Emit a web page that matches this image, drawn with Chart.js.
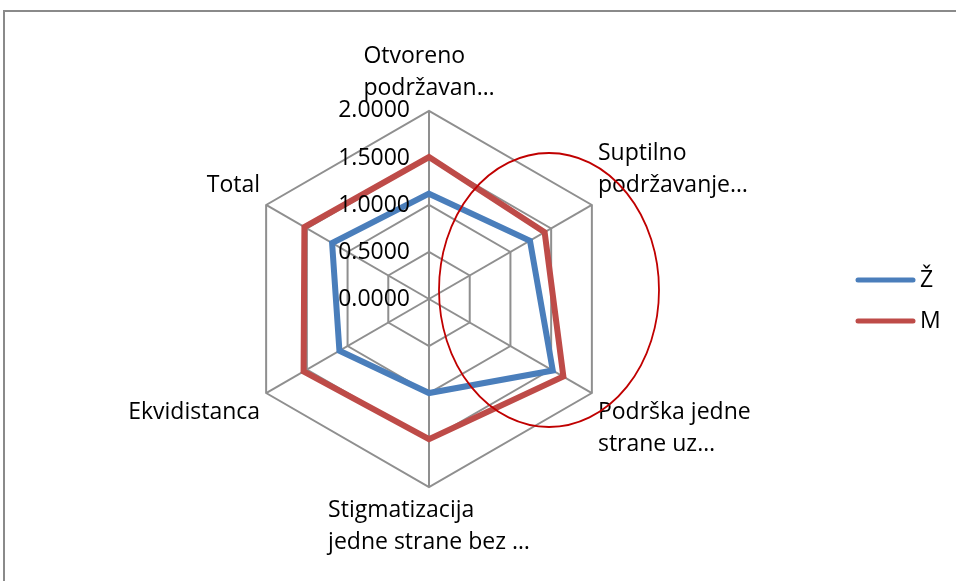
<!DOCTYPE html>
<html>
<head>
<meta charset="utf-8">
<script src="https://cdn.jsdelivr.net/npm/chart.js@4"></script>
<style>
    html, body { margin: 0; padding: 0; background: #fff; }
    #wrap { position: relative; width: 956px; height: 581px; }
</style>
</head>
<body>
<div id="wrap"><canvas id="radar" width="956" height="581"></canvas></div>
<script>
// Data
const categories = [
    ['Otvoreno', 'podržavan…'],
    ['Suptilno', 'podržavanje…'],
    ['Podrška jedne', 'strane uz…'],
    ['Stigmatizacija', 'jedne strane bez …'],
    'Ekvidistanca',
    'Total'
];
const seriesNames = ['Ž', 'M'];
const valuesZ = [1.12, 1.24, 1.52, 1.00, 1.10, 1.19];
const valuesM = [1.51, 1.42, 1.65, 1.49, 1.54, 1.53];
const tickValues = [0, 0.5, 1, 1.5, 2];
const tickLabels = ['0.0000', '0.5000', '1.0000', '1.5000', '2.0000'];

const seriesColors = ['#4a7ebb', '#be4b48'];
const FONT = '"Open Sans", sans-serif';
const FONT_SIZE = 23;
const LINE_HEIGHT = 1.39;

// Outer frame of the chart object
const framePlugin = {
    id: 'frame',
    beforeDraw(chart) {
        const ctx = chart.ctx;
        ctx.save();
        ctx.fillStyle = '#ffffff';
        ctx.fillRect(0, 0, chart.width, chart.height);
        ctx.strokeStyle = '#8a8a8a';
        ctx.lineWidth = 2;
        ctx.strokeRect(4, 11, chart.width + 20, chart.height + 20);
        ctx.restore();
    }
};

// Category labels: keep Chart.js placement, but left-align the lines of each label block
const pointLabelPlugin = {
    id: 'leftAlignedPointLabels',
    afterDraw(chart) {
        const scale = chart.scales.r;
        const items = scale._pointLabelItems || [];
        const ctx = chart.ctx;
        const lh = FONT_SIZE * LINE_HEIGHT;
        ctx.save();
        ctx.font = FONT_SIZE + 'px ' + FONT;
        ctx.fillStyle = '#000';
        ctx.textAlign = 'left';
        ctx.textBaseline = 'middle';
        items.forEach((item, i) => {
            const lines = [].concat(scale._pointLabels[i]);
            lines.forEach((line, j) => {
                ctx.fillText(line, item.left, item.top + lh * (j + 0.5));
            });
        });
        ctx.restore();
    }
};

// Tick labels, right-aligned left of the vertical axis
const tickLabelPlugin = {
    id: 'tickLabels',
    afterDatasetsDraw(chart) {
        const scale = chart.scales.r;
        const ctx = chart.ctx;
        ctx.save();
        ctx.font = FONT_SIZE + 'px ' + FONT;
        ctx.fillStyle = '#000';
        ctx.textAlign = 'right';
        ctx.textBaseline = 'middle';
        tickValues.forEach((v, i) => {
            const d = scale.getDistanceFromCenterForValue(v);
            ctx.fillText(tickLabels[i], scale.xCenter - 19, scale.yCenter - d);
        });
        ctx.restore();
    }
};

// Legend on the right
const legendPlugin = {
    id: 'sideLegend',
    afterDraw(chart) {
        const ctx = chart.ctx;
        ctx.save();
        ctx.font = FONT_SIZE + 'px ' + FONT;
        ctx.textBaseline = 'middle';
        ctx.textAlign = 'left';
        chart.data.datasets.forEach((ds, i) => {
            const y = 280 + i * 41;
            ctx.strokeStyle = ds.borderColor;
            ctx.lineWidth = 5;
            ctx.lineCap = 'round';
            ctx.beginPath();
            ctx.moveTo(858, y);
            ctx.lineTo(913, y);
            ctx.stroke();
            ctx.fillStyle = '#000';
            ctx.fillText(ds.label, 920, y);
        });
        ctx.restore();
    }
};

// Hand-drawn red ellipse annotation
const ellipsePlugin = {
    id: 'ellipseNote',
    afterDraw(chart) {
        const ctx = chart.ctx;
        ctx.save();
        ctx.strokeStyle = '#c00000';
        ctx.lineWidth = 1.8;
        ctx.beginPath();
        ctx.ellipse(549, 290, 110, 137, 0, 0, Math.PI * 2);
        ctx.stroke();
        ctx.restore();
    }
};

new Chart(document.getElementById('radar'), {
    type: 'radar',
    data: {
        labels: categories,
        datasets: [
            {
                label: seriesNames[0],
                data: valuesZ,
                borderColor: seriesColors[0],
                backgroundColor: seriesColors[0],
                borderWidth: 6,
                fill: false,
                pointRadius: 0,
                pointHoverRadius: 0
            },
            {
                label: seriesNames[1],
                data: valuesM,
                borderColor: seriesColors[1],
                backgroundColor: seriesColors[1],
                borderWidth: 6,
                fill: false,
                pointRadius: 0,
                pointHoverRadius: 0
            }
        ]
    },
    options: {
        responsive: false,
        animation: false,
        layout: {
            padding: { left: 40, right: 138, top: 41, bottom: 22 }
        },
        plugins: {
            legend: { display: false },
            tooltip: { enabled: false }
        },
        scales: {
            r: {
                min: 0,
                max: 2,
                ticks: {
                    display: false,
                    stepSize: 0.5
                },
                grid: {
                    color: '#8f8f8f',
                    lineWidth: 2
                },
                angleLines: {
                    color: '#8f8f8f',
                    lineWidth: 2
                },
                pointLabels: {
                    color: 'rgba(0,0,0,0)',
                    padding: 7,
                    font: { family: FONT, size: FONT_SIZE, lineHeight: LINE_HEIGHT }
                }
            }
        }
    },
    plugins: [framePlugin, pointLabelPlugin, tickLabelPlugin, legendPlugin, ellipsePlugin]
});
</script>
</body>
</html>
